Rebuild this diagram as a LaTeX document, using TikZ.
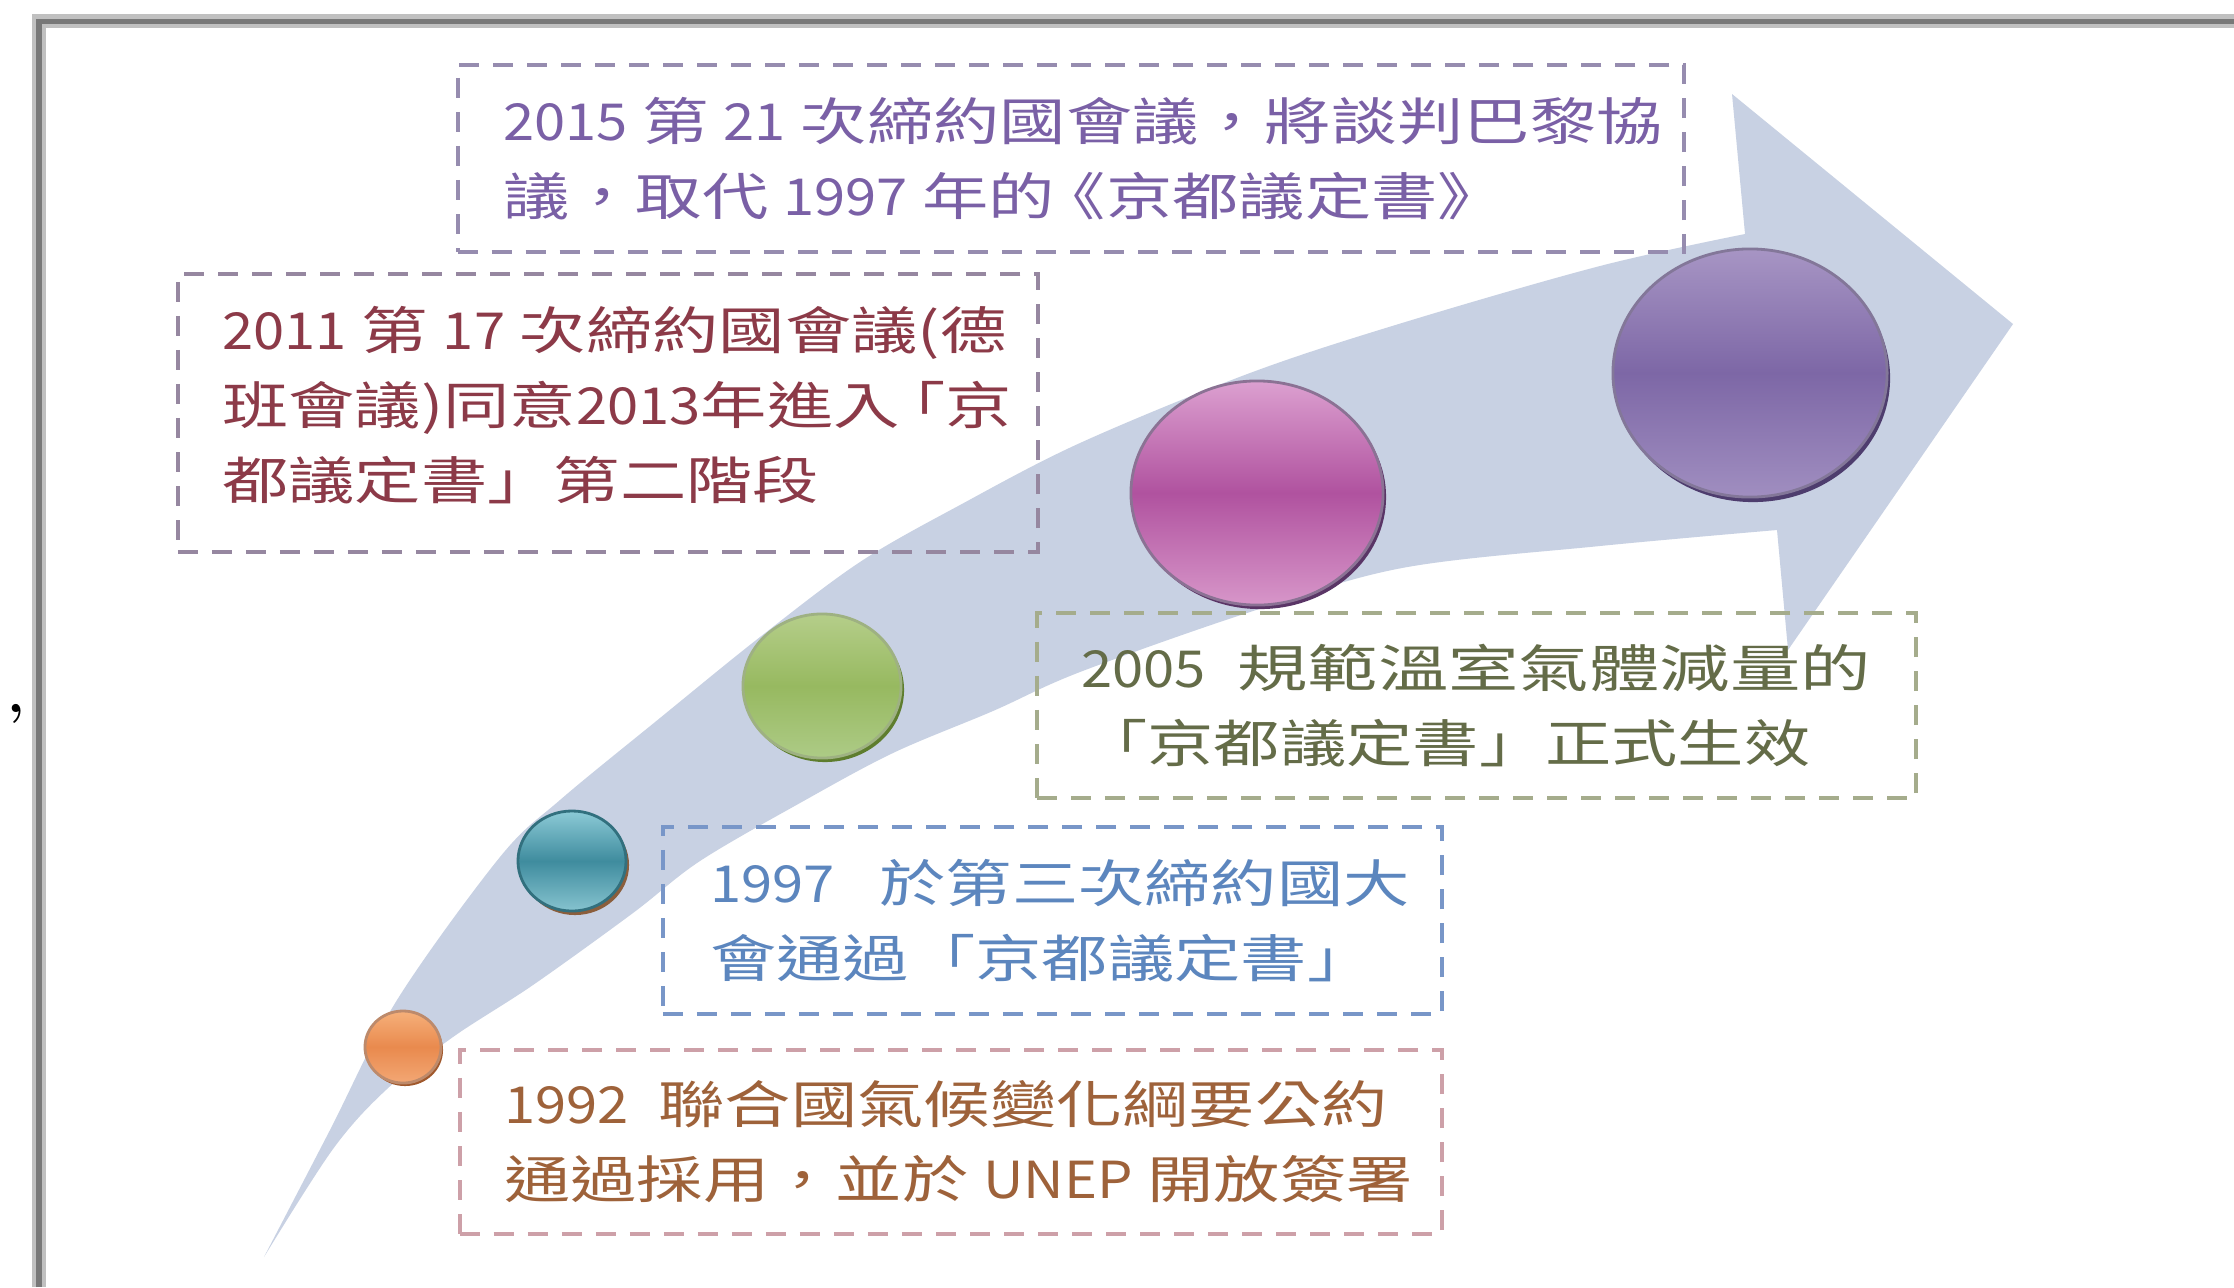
\documentclass[tikz,border=0pt]{standalone}
\usepackage{fontspec}
\newfontfamily\cjk[FakeStretch=1.3]{Noto Sans CJK TC}
\newfontfamily\cjkw[FakeStretch=1.38]{Noto Sans CJK TC}
\newfontfamily\cjkn[FakeStretch=1.1]{Noto Sans CJK TC}
\usetikzlibrary{shapes.geometric}

\definecolor{frameLight}{RGB}{192,192,192}
\definecolor{frameDark}{RGB}{120,120,120}
% text colours
\definecolor{txPurple}{RGB}{122,96,166}
\definecolor{txMaroon}{RGB}{140,58,72}
\definecolor{txOlive}{RGB}{100,108,72}
\definecolor{txBlue}{RGB}{92,134,190}
\definecolor{txBrown}{RGB}{158,98,58}
% box border colours
\definecolor{bdPurple}{RGB}{150,140,175}
\definecolor{bdMaroon}{RGB}{150,135,160}
\definecolor{bdOlive}{RGB}{165,172,140}
\definecolor{bdBlue}{RGB}{120,150,200}
\definecolor{bdRose}{RGB}{205,160,168}
% balls
\definecolor{orTop}{RGB}{246,176,122}\definecolor{orMid}{RGB}{233,138,78}\definecolor{orBot}{RGB}{243,167,116}\definecolor{orRim}{RGB}{160,88,44}
\definecolor{teTop}{RGB}{140,202,214}\definecolor{teMid}{RGB}{63,140,158}\definecolor{teBot}{RGB}{134,195,207}\definecolor{teRim}{RGB}{139,94,60}
\definecolor{grTop}{RGB}{181,206,138}\definecolor{grMid}{RGB}{151,185,96}\definecolor{grBot}{RGB}{173,203,134}\definecolor{grRim}{RGB}{94,125,46}
\definecolor{maTop}{RGB}{220,160,208}\definecolor{maMid}{RGB}{176,82,159}\definecolor{maBot}{RGB}{215,150,201}\definecolor{maRim}{RGB}{90,53,102}
\definecolor{puTop}{RGB}{167,149,196}\definecolor{puMid}{RGB}{125,103,166}\definecolor{puBot}{RGB}{160,142,192}\definecolor{puRim}{RGB}{78,61,110}

\pgfdeclarehorizontalshading{arrowshade}{100bp}{rgb(0bp)=(0.91,0.93,0.965); rgb(22bp)=(0.785,0.818,0.89); rgb(100bp)=(0.785,0.818,0.89)}

\begin{document}
\begin{tikzpicture}[x=0.01cm,y=-0.01cm,
  box/.style={draw, dash pattern=on 0.2cm off 0.14cm, line width=1.2pt, inner sep=0, rectangle},
  txt/.style={font=\cjk\fontsize{14.5pt}{21.3pt}\selectfont, align=left, anchor=west, inner sep=0},
  ballshadow/.style={ellipse, inner sep=0, draw=none},
  ball/.style={ellipse, inner sep=0, line width=0.8pt}
]
\useasboundingbox (0,0) rectangle (2234,1287);
\fill[white] (0,0) rectangle (2234,1287);

% frame
\draw[line width=0.14cm, frameLight] (39,1287) -- (39,21) -- (2234,21);
\draw[line width=0.05cm, frameDark] (39,1287) -- (39,21) -- (2234,21);
\node[font=\fontsize{16pt}{18pt}\selectfont\bfseries, anchor=base, inner sep=0] (comma) at (16,712) {,};

% curved arrow
\shade[shading=arrowshade]
  (264,1257) -- plot[smooth, tension=0.55] coordinates {(264,1257) (330,1130) (397,1000) (500,857) (560,800) (660,718) (760,637) (860,562) (960,505) (1080,443) (1250,373) (1402,323) (1600,266) (1745,234)}
  -- (1732,94) -- (2013,324) -- (1788,650) -- (1777,530)
  -- plot[smooth, tension=0.55] coordinates {(1777,530) (1600,546) (1402,568) (1250,612) (1080,672) (993,711) (893,753) (800,803) (700,861) (633,913) (533,985) (453,1037) (387,1089) (333,1149) (264,1257)}
  -- cycle;

% balls
\node[ballshadow, fill=orRim, minimum width=0.76cm, minimum height=0.72cm] (c1s) at (405,1050) {};
\node[ball, minimum width=0.76cm, minimum height=0.72cm, top color=orTop, bottom color=orBot, middle color=orMid, draw=orRim!70] (c1) at (403,1047) {};

\node[ballshadow, fill=teRim, minimum width=1.08cm, minimum height=1.0cm] (c2s) at (575,865) {};
\node[ball, minimum width=1.08cm, minimum height=1.0cm, top color=teTop, bottom color=teBot, middle color=teMid, draw=teMid!80!black] (c2) at (572,861) {};

\node[ballshadow, fill=grRim, minimum width=1.58cm, minimum height=1.44cm] (c3s) at (825,690) {};
\node[ball, minimum width=1.58cm, minimum height=1.44cm, top color=grTop, bottom color=grBot, middle color=grMid, draw=grRim!60] (c3) at (822,686) {};

\node[ballshadow, fill=maRim, minimum width=2.52cm, minimum height=2.24cm] (c4s) at (1260,497) {};
\node[ball, minimum width=2.52cm, minimum height=2.24cm, top color=maTop, bottom color=maBot, middle color=maMid, draw=maRim!70] (c4) at (1257,493) {};

\node[ballshadow, fill=puRim, minimum width=2.74cm, minimum height=2.48cm] (c5s) at (1753,378) {};
\node[ball, minimum width=2.74cm, minimum height=2.48cm, top color=puTop, bottom color=puBot, middle color=puMid, draw=puRim!70] (c5) at (1750,373) {};

% boxes
\node[box, draw=bdPurple, minimum width=12.26cm, minimum height=1.87cm] (b15) at (1071,158.5) {};
\node[txt, text=txPurple] (t15) at ([xshift=0.47cm]b15.west) {{\cjkn 2015} 第 {\cjkn 21} 次締約國會議，將談判巴黎協\\議，取代 {\cjkn 1997} 年的\kern-0.3em《京都議定書》};

\node[box, draw=bdMaroon, minimum width=8.60cm, minimum height=2.78cm] (b11) at (608,413) {};
\node[txt, text=txMaroon] (t11) at ([xshift=0.46cm,yshift=0.08cm]b11.west) {{\cjkn 2011} 第 {\cjkn 17} 次締約國會議(德\\班會議)同意{\cjkn 2013}年進入\kern-0.4em「京\\都議定書」第二階段};

\node[box, draw=bdOlive, minimum width=8.79cm, minimum height=1.85cm] (b05) at (1476.5,705.5) {};
\node[txt, text=txOlive] (t05) at ([xshift=0.46cm]b05.west) {{\cjkw{\cjkn 2005}\ \ 規範溫室氣體減量的}\\「京都議定書」正式生效};

\node[box, draw=bdBlue, minimum width=7.79cm, minimum height=1.87cm] (b97) at (1052.5,920.5) {};
\node[txt, text=txBlue] (t97) at ([xshift=0.49cm]b97.west) {{\cjkn 1997}\ \ \ 於第三次締約國大\\會通過「京都議定書」};

\node[box, draw=bdRose, minimum width=9.82cm, minimum height=1.84cm] (b92) at (951,1142) {};
\node[txt, text=txBrown] (t92) at ([xshift=0.46cm]b92.west) {{\cjkn 1992}\ \ 聯合國氣候變化綱要公約\\通過採用，並於 {\cjkn UNEP} 開放簽署};
\end{tikzpicture}
\end{document}
